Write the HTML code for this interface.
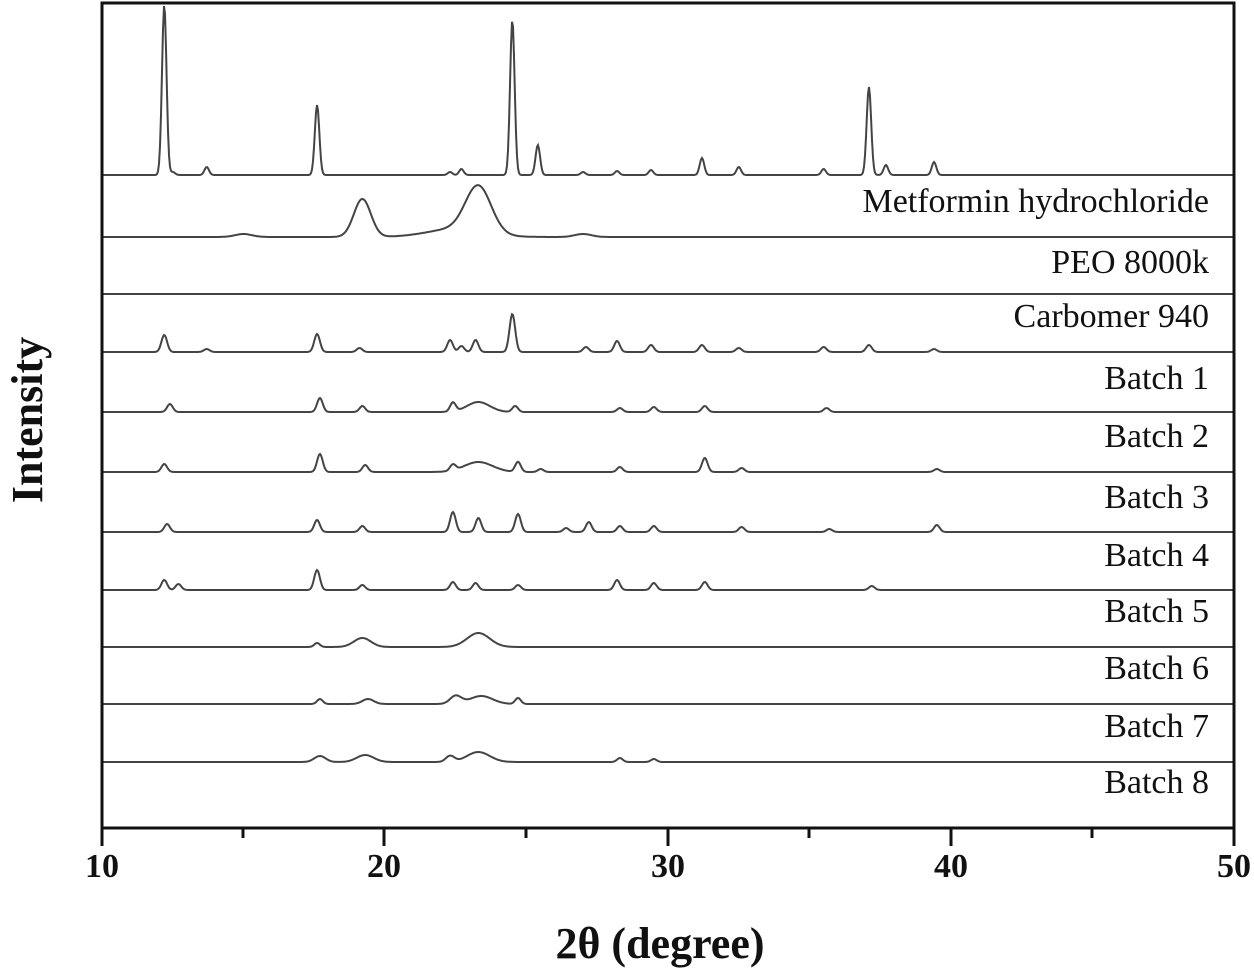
<!DOCTYPE html>
<html><head><meta charset="utf-8"><style>
body{margin:0;background:#fff}
svg{display:block}
text{font-family:"Liberation Serif",serif;fill:#111}
</style></head><body>
<svg id="s" width="1254" height="975" viewBox="0 0 1254 975">
<g id="curves" fill="none" stroke="#444" stroke-width="2"></g>
<rect x="102" y="3" width="1132" height="825" fill="none" stroke="#111" stroke-width="3"/>
<g stroke="#111" stroke-width="3">
<line x1="102" y1="828" x2="102" y2="846"/><line x1="243" y1="828" x2="243" y2="838"/>
<line x1="384" y1="828" x2="384" y2="846"/><line x1="526" y1="828" x2="526" y2="838"/>
<line x1="668" y1="828" x2="668" y2="846"/><line x1="809" y1="828" x2="809" y2="838"/>
<line x1="951" y1="828" x2="951" y2="846"/><line x1="1092" y1="828" x2="1092" y2="838"/>
<line x1="1234" y1="828" x2="1234" y2="846"/>
</g>
<g font-size="34" font-weight="bold" text-anchor="middle">
<text x="102" y="877">10</text><text x="384" y="877">20</text><text x="668" y="877">30</text><text x="951" y="877">40</text><text x="1234" y="877">50</text>
</g>
<text x="660" y="958" font-size="44" font-weight="bold" text-anchor="middle">2θ (degree)</text>
<text transform="translate(42,420) rotate(-90)" font-size="44" font-weight="bold" text-anchor="middle">Intensity</text>
<g font-size="34" text-anchor="end">
<text x="1209" y="212">Metformin hydrochloride</text>
<text x="1209" y="273">PEO 8000k</text>
<text x="1209" y="327">Carbomer 940</text>
<text x="1209" y="389">Batch 1</text>
<text x="1209" y="447">Batch 2</text>
<text x="1209" y="508">Batch 3</text>
<text x="1209" y="566">Batch 4</text>
<text x="1209" y="622">Batch 5</text>
<text x="1209" y="679">Batch 6</text>
<text x="1209" y="737">Batch 7</text>
<text x="1209" y="793">Batch 8</text>
</g>
</svg>
<script>
var S=[
[175,.08,[[12.2,170],[12.5,3],[13.7,8],[17.6,70],[22.3,3],[22.7,6],[24.5,155],[25.4,30],[27,3],[28.2,4],[29.4,5],[31.2,17],[32.5,8],[35.5,6],[37.1,88],[37.7,10],[39.4,13]]],
[237,.3,[[15,3],[19.2,38],[23.3,46,.45],[22.5,8,1],[27,3]]],
[294,.1,[]],
[352,.1,[[12.2,17],[13.7,3],[17.6,18],[19.1,4],[22.3,12],[22.7,6],[23.2,12],[24.5,38],[27.1,5],[28.2,11],[29.4,7],[31.2,7],[32.5,4],[35.5,5],[37.1,7],[39.4,3]]],
[412,.1,[[12.4,8],[17.7,14],[19.2,6],[22.4,9],[23.3,10,.4],[24.6,6],[28.3,4],[29.5,5],[31.3,6],[35.6,4]]],
[472,.1,[[12.2,8],[17.7,18],[19.3,7],[22.4,6],[23.3,10,.5],[24.7,10],[25.5,3],[28.3,5],[31.3,14],[32.6,4],[39.5,3]]],
[532,.1,[[12.3,8],[17.6,12],[19.2,6],[22.4,20],[23.3,14],[24.7,18],[26.4,4],[27.2,10],[28.3,6],[29.5,6],[32.6,5],[35.7,3],[39.5,7]]],
[590,.1,[[12.2,10],[12.7,6],[17.6,20],[19.2,5],[22.4,8],[23.2,7],[24.7,5],[28.2,10],[29.5,7],[31.3,8],[37.2,4]]],
[647,.1,[[17.6,4],[19.2,9,.3],[23.3,14,.4]]],
[704,.1,[[17.7,5],[19.4,5,.2],[22.5,8,.2],[23.4,8,.4],[24.7,6]]],
[762,.1,[[17.7,6,.2],[19.3,7,.3],[22.3,6,.15],[23.3,10,.4],[28.3,4],[29.5,3]]]
];
var g=document.getElementById('curves'),ns='http://www.w3.org/2000/svg';
S.forEach(function(s){
 var d='';
 for(var px=102;px<=1234;px+=1){
  var x=10+(px-102)/28.3,y=s[0];
  s[2].forEach(function(p){var w=p[2]||s[1];y-=p[1]*Math.exp(-Math.pow(x-p[0],2)/(2*w*w));});
  d+=(px==102?'M':'L')+px+' '+y.toFixed(1);
 }
 var e=document.createElementNS(ns,'path');e.setAttribute('d',d);g.appendChild(e);
});
</script>
</body></html>
